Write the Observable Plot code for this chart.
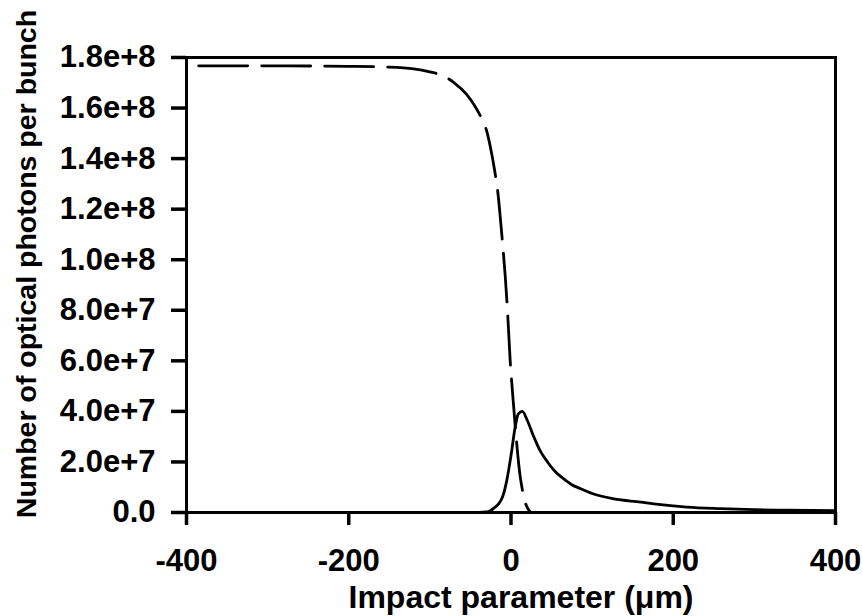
<!DOCTYPE html>
<html><head><meta charset="utf-8">
<script src="https://cdn.jsdelivr.net/npm/d3@7"></script>
<script src="https://cdn.jsdelivr.net/npm/@observablehq/plot@0.6"></script>
<style>body{margin:0;background:#fff}</style>
</head><body><div id="chart"></div>
<script>
// Dashed curve (falls from plateau to zero near 0 µm)
const impactDashed = [-385, -300, -200, -150, -120, -100, -87, -70, -55, -45, -35, -30, -26, -20, -16, -13, -10, -7, -4, -1, 2, 5, 8, 11, 14, 17, 20, 23, 25];
const photonsDashed = [1.767e8, 1.767e8, 1.765e8, 1.762e8, 1.755e8, 1.743e8, 1.732e8, 1.70e8, 1.655e8, 1.61e8, 1.55e8, 1.51e8, 1.455e8, 1.35e8, 1.26e8, 1.16e8, 1.05e8, 0.93e8, 0.78e8, 0.60e8, 0.47e8, 0.35e8, 0.24e8, 0.15e8, 0.09e8, 0.045e8, 0.02e8, 0.005e8, 0];
// Solid curve (peak near +14 µm, long tail)
const impactSolid = [-100, -40, -30, -25, -20, -15, -10, -5, 0, 5, 9, 14, 20, 28, 35, 45, 55, 65, 75, 86, 100, 127, 160, 176, 217, 258, 300, 340, 400];
const photonsSolid = [0, 0, 0.002e8, 0.008e8, 0.02e8, 0.035e8, 0.065e8, 0.13e8, 0.225e8, 0.335e8, 0.39e8, 0.40e8, 0.365e8, 0.30e8, 0.25e8, 0.20e8, 0.16e8, 0.133e8, 0.11e8, 0.094e8, 0.075e8, 0.054e8, 0.041e8, 0.034e8, 0.021e8, 0.015e8, 0.011e8, 0.009e8, 0.007e8];

const xTicks = [-400, -200, 0, 200, 400];
const xTickLabels = ["-400", "-200", "0", "200", "400"];
const yTicks = [0, 2e7, 4e7, 6e7, 8e7, 1e8, 1.2e8, 1.4e8, 1.6e8, 1.8e8];
const yTickLabels = ["0.0", "2.0e+7", "4.0e+7", "6.0e+7", "8.0e+7", "1.0e+8", "1.2e+8", "1.4e+8", "1.6e+8", "1.8e+8"];
const xTitle = "Impact parameter (\u03bcm)";
const yTitle = "Number of optical photons per bunch";

const dashed = impactDashed.map((x, i) => ({x, y: photonsDashed[i]}));
const solid = impactSolid.map((x, i) => ({x, y: photonsSolid[i]}));

const font = "'Liberation Sans', Arial, Helvetica, sans-serif";
const chart = Plot.plot({
  width: 862, height: 616,
  marginLeft: 186, marginRight: 27, marginTop: 57, marginBottom: 104,
  style: {fontFamily: font, fontWeight: "bold", fontSize: "28px", color: "#000", background: "#fff"},
  x: {domain: [-400, 400]},
  y: {domain: [0, 1.8e8]},
  marks: [
    Plot.axisX({ticks: xTicks, tickSize: 13, tickPadding: 23, strokeWidth: 3.5, fontSize: 31, label: null,
      tickFormat: d => xTickLabels[xTicks.indexOf(d)]}),
    Plot.axisY({ticks: yTicks, tickSize: 15, tickPadding: 16, strokeWidth: 3.5, fontSize: 31, label: null,
      tickFormat: d => yTickLabels[yTicks.indexOf(d)]}),
    Plot.line(dashed, {x: "x", y: "y", curve: "monotone-x", stroke: "#000", strokeWidth: 2.8, strokeDasharray: "49,14"}),
    Plot.line(solid, {x: "x", y: "y", curve: "monotone-x", stroke: "#000", strokeWidth: 2.8}),
    Plot.frame({stroke: "#000", strokeWidth: 3}),
    Plot.text([xTitle], {text: d => d, frameAnchor: "bottom", dx: 10, dy: 85, fontSize: 32, textAnchor: "middle", lineAnchor: "middle"}),
    Plot.text([yTitle], {text: d => d, frameAnchor: "left", rotate: -90, dx: -160, dy: -21, fontSize: 28.5, textAnchor: "middle", lineAnchor: "middle"})
  ]
});
document.getElementById("chart").appendChild(chart);
</script>
</body></html>
